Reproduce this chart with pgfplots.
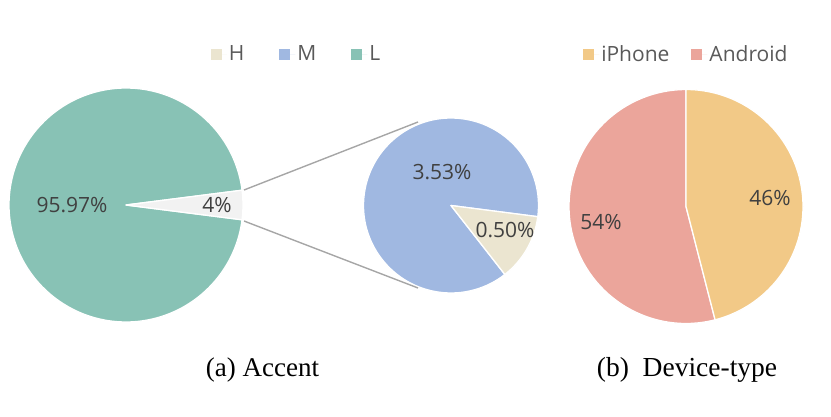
\documentclass[border=0pt]{standalone}
\usepackage{pgfplots}
\pgfplotsset{compat=1.18}
\usepackage{fontspec}
\setmainfont{Liberation Serif}
\newfontfamily\lblfont{Open Sans}

\definecolor{colH}{HTML}{EBE5D0}
\definecolor{colM}{HTML}{A0B8E1}
\definecolor{colL}{HTML}{88C2B5}
\definecolor{colOther}{HTML}{F2F2F2}
\definecolor{colIphone}{HTML}{F2C987}
\definecolor{colAndroid}{HTML}{EBA59B}
\definecolor{labcol}{HTML}{404040}
\definecolor{legcol}{HTML}{595959}
\definecolor{linecol}{HTML}{A6A6A6}

% data (percent)
\def\valH{0.50}
\def\valM{3.53}
\def\valL{95.97}
\def\valIphone{46}
\def\valAndroid{54}

% one pie slice: centre x, centre y, radius, start angle, end angle, colour
\newcommand{\slice}[6]{%
  \fill[#6, draw=white, line width=1.3pt, line join=round]
    (axis cs:#1,#2) -- ++(#4:#3pt) arc[start angle=#4, end angle=#5, radius=#3pt] -- cycle;}

\pgfplotsset{
  piebase/.style={
    x=1pt, y=1pt,
    xmin=0, xmax=831, ymin=0, ymax=416,
    hide axis, clip=false,
    legend columns=-1,
    legend image code/.code={\fill[##1] (0pt,-5.5pt) rectangle (11pt,5.5pt);
      \path (0pt,0pt) -- (16pt,0pt);},
  },
}

\begin{document}
\begin{tikzpicture}
\pgfmathsetmacro{\other}{\valH+\valM}
\pgfmathsetmacro{\half}{\other*3.6/2}
\pgfmathsetmacro{\Lend}{360-\half}
\pgfmathsetmacro{\Hstart}{-52}
\pgfmathsetmacro{\Hend}{\Hstart+\valH/\other*360}
\pgfmathsetmacro{\Mend}{\Hstart+360}
\pgfmathsetmacro{\Iend}{90-\valIphone*3.6}
\pgfmathsetmacro{\Aend}{\Iend-\valAndroid*3.6}

% (a) Accent
\begin{axis}[piebase,
  legend style={at={(0.357,0.870)}, anchor=center, draw=none, fill=none,
    font=\lblfont\fontsize{21}{25}\selectfont, text=legcol,
    /tikz/every even column/.append style={column sep=33pt}},
]
\addplot[draw=none, forget plot] coordinates {(0,0) (831,416)};
\addlegendimage{fill=colH, draw=none}
\addlegendentry{H}
\addlegendimage{fill=colM, draw=none}
\addlegendentry{M}
\addlegendimage{fill=colL, draw=none}
\addlegendentry{L}

\slice{126}{211}{117}{\half}{\Lend}{colL}
\slice{126}{211}{117}{-\half}{\half}{colOther}

\slice{451}{210.5}{87.5}{\Hend}{\Mend}{colM}
\slice{451}{210.5}{87.5}{\Hstart}{\Hend}{colH}

\draw[linecol, line width=1.4pt] (axis cs:244,226) -- (axis cs:418,294);
\draw[linecol, line width=1.4pt] (axis cs:244,195) -- (axis cs:418,128);

\begin{scope}[every node/.style={font=\lblfont\fontsize{21}{25}\selectfont, text=labcol}]
\node at (axis cs:72,211) {95.97\%};
\node at (axis cs:217,211) {4\%};
\node at (axis cs:442,244) {3.53\%};
\node at (axis cs:505,186) {0.50\%};
\end{scope}

\node[font=\fontsize{27}{30}\selectfont] at (axis cs:262.5,46) {(a) Accent};
\end{axis}

% (b) Device-type
\begin{axis}[piebase,
  legend style={at={(0.826,0.870)}, anchor=center, draw=none, fill=none,
    font=\lblfont\fontsize{21}{25}\selectfont, text=legcol,
    /tikz/every even column/.append style={column sep=20pt}},
]
\addplot[draw=none, forget plot] coordinates {(0,0) (831,416)};
\addlegendimage{fill=colIphone, draw=none}
\addlegendentry{iPhone}
\addlegendimage{fill=colAndroid, draw=none}
\addlegendentry{Android}

\slice{686}{209.5}{117}{\Iend}{\Aend}{colAndroid}
\slice{686}{209.5}{117}{90}{\Iend}{colIphone}

\begin{scope}[every node/.style={font=\lblfont\fontsize{21}{25}\selectfont, text=labcol}]
\node at (axis cs:770,218) {46\%};
\node at (axis cs:601,194) {54\%};
\end{scope}

\node[font=\fontsize{27.5}{30}\selectfont] at (axis cs:687,46) {(b)\hspace{0.5em}Device-type};
\end{axis}
\end{tikzpicture}
\end{document}
